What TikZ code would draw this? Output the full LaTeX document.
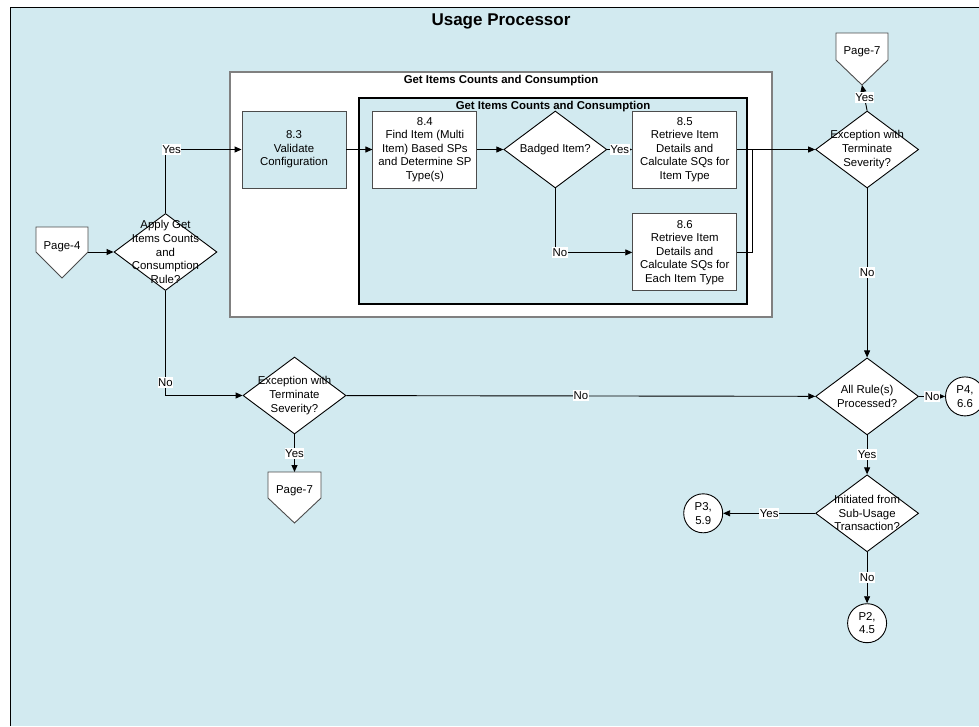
\documentclass[tikz,border=0pt]{standalone}
\usepackage{fontspec}
\setmainfont{Liberation Sans}
\usetikzlibrary{shapes.geometric,arrows.meta,positioning}
\definecolor{sheetblue}{RGB}{210,234,240}
\newcommand\flowfont{\fontsize{11.4}{13.6}\selectfont}

\begin{document}
\begin{tikzpicture}[x=1pt,y=-1pt,line width=0.9pt,font=\flowfont]
        \tikzstyle{process} = [rectangle, minimum width=104pt, minimum height=77pt, text centered, align=center, draw=black!70, fill=white, inner sep=1pt]
        \tikzstyle{decision} = [diamond, minimum width=103pt, minimum height=77pt, draw=black, fill=white, inner sep=0pt]
        \tikzstyle{decisiontext} = [align=center, inner sep=0pt]
        \tikzstyle{offpage} = [circle, minimum size=39pt, inner sep=0pt, draw=black, fill=white, align=center]
        \tikzstyle{pageshape} = [draw=black!70, fill=white]
        \tikzstyle{heading} = [font=\flowfont\bfseries]
        \tikzstyle{flow} = [-{Triangle[length=7pt,width=6pt]}]
        \tikzstyle{answer} = [fill=white, inner xsep=0.5pt, inner ysep=1.5pt]

        \useasboundingbox (0,0) rectangle (979,726);

        % sheet
        \fill [sheetblue] (10,7) rectangle (979,726);
        \draw (10,726) -- (10,7) -- (979,7);
        \node (title) [font=\fontsize{17}{20}\selectfont\bfseries] at (501,21) {Usage Processor};

        % sub-process frames
        \draw [draw=black!50, fill=white, line width=1.6pt] (230,72) rectangle (772,317);
        \node (outer title) [heading] at (501,81) {Get Items Counts and Consumption};
        \draw [fill=sheetblue, line width=1.6pt] (359,98) rectangle (747,304);
        \node (inner title) [heading] at (553,107) {Get Items Counts and Consumption};

        % page connectors
        \draw [pageshape] (36,227) -- (88,227) -- (88,252) coordinate (page4 out) -- (62,278) -- (36,252) -- cycle;
        \node (page4) at (62,247) {Page-4};
        \draw [pageshape] (836,33) -- (888,33) -- (888,60) -- (862,85) coordinate (page7a tip) -- (836,60) -- cycle;
        \node (page7a) at (862,52) {Page-7};
        \draw [pageshape] (268,472) -- (321,472) -- (321,498) -- (294.5,523) -- (268,498) -- cycle;
        \coordinate (page7b top) at (294.5,472);
        \node (page7b) at (294.5,491) {Page-7};

        \node (v83) [process, fill=sheetblue] at (294,149.5) {8.3\\Validate\\Configuration};
        \node (v84) [process, right=26pt of v83] {8.4\\Find Item (Multi\\Item) Based SPs\\and Determine SP\\Type(s)};
        \node (badged) [decision, right=26pt of v84, label={[decisiontext]center:Badged Item?}] {};
        \node (v85) [process, right=25pt of badged] {8.5\\Retrieve Item\\Details and\\Calculate SQs for\\Item Type};
        \node (v86) [process, below=25pt of v85] {8.6\\Retrieve Item\\Details and\\Calculate SQs for\\Each Item Type};
        \node (exc1) [decision, right=78pt of v85, label={[decisiontext]center:Exception with\\Terminate\\Severity?}] {};
        \node (all) [decision, below=169pt of exc1, label={[decisiontext]center:All Rule(s)\\Processed?}] {};
        \node (p4) [offpage, right=26pt of all] {P4,\\6.6};
        \node (init) [decision, below=39pt of all, label={[decisiontext]center:Initiated from\\Sub-Usage\\Transaction?}] {};
        \node (p3) [offpage, left=92pt of init] {P3,\\5.9};
        \node (p2) [offpage, below=51pt of init] {P2,\\4.5};
        \node (apply) [decision, label={[decisiontext]center:Apply Get\\Items Counts\\and\\Consumption\\Rule?}] at (165.5,252) {};
        \node (exc2) [decision, label={[decisiontext]center:Exception with\\Terminate\\Severity?}] at (294.5,395.5) {};
        \coordinate (join) at (752,149.5);

        \draw [flow] (page4 out) -- (apply.west);
        \draw [flow] (apply.north) |- node [answer, pos=0.54] {Yes} (v83.west);
        \draw [flow] (v83) -- (v84);
        \draw [flow] (v84) -- (badged);
        \draw [flow] (badged) -- node [answer] {Yes} (v85);
        \draw [flow] (badged.south) |- node [answer, pos=0.53] {No} (v86.west);
        \draw [flow] (v85) -- (exc1);
        \draw (v86.east) -| (join);
        \draw [flow] (exc1.north) -- node [answer] {Yes} (page7a tip);
        \draw [flow] (exc1) -- node [answer] {No} (all);
        \draw [flow] (apply.south) |- node [answer, pos=0.44] {No} (exc2.west);
        \draw [flow] (exc2.south) -- node [answer] {Yes} (page7b top);
        \draw [flow] (exc2) -- node [answer] {No} (all);
        \draw [flow] (all) -- node [answer] {No} (p4);
        \draw [flow] (all) -- node [answer] {Yes} (init);
        \draw [flow] (init) -- node [answer] {Yes} (p3);
        \draw [flow] (init) -- node [answer] {No} (p2);
    \end{tikzpicture}
\end{document}
